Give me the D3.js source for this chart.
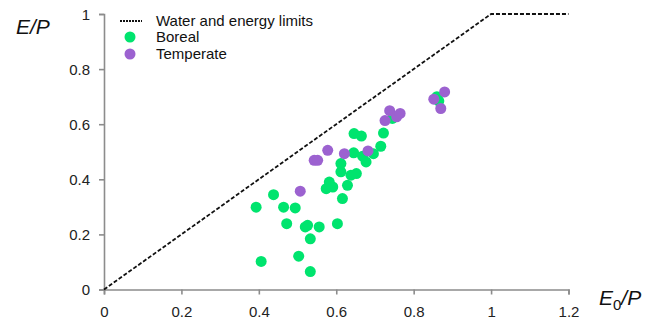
<!DOCTYPE html>
<html>
<head>
<meta charset="utf-8">
<script src="https://cdn.jsdelivr.net/npm/d3@7"></script>
<style>
  html, body { margin: 0; padding: 0; background: #fff; }
  svg { display: block; font-family: "Liberation Sans", Arial, sans-serif; }
</style>
</head>
<body>
<svg id="chart" width="654" height="321"></svg>
<script>
// Water and energy limits: E/P = E0/P up to 1, then capped at 1
const limitX = [0, 1, 1.2];
const limitY = [0, 1, 1];

// Boreal sites (E0/P, E/P)
const borealX = [0.393, 0.438, 0.464, 0.494, 0.472, 0.520, 0.526, 0.556, 0.533, 0.603,
                 0.406, 0.503, 0.533, 0.574, 0.582, 0.591, 0.616, 0.629, 0.612, 0.612,
                 0.638, 0.652, 0.645, 0.668, 0.677, 0.696, 0.715, 0.646, 0.665, 0.722,
                 0.745, 0.865, 0.860];
const borealY = [0.299, 0.344, 0.299, 0.296, 0.239, 0.227, 0.233, 0.227, 0.184, 0.239,
                 0.102, 0.121, 0.065, 0.366, 0.390, 0.372, 0.330, 0.378, 0.427, 0.457,
                 0.415, 0.421, 0.496, 0.484, 0.463, 0.493, 0.520, 0.566, 0.557, 0.568,
                 0.621, 0.684, 0.700];

// Temperate sites (E0/P, E/P)
const temperateX = [0.507, 0.543, 0.552, 0.578, 0.621, 0.682, 0.726, 0.738, 0.756, 0.765,
                    0.852, 0.880, 0.870];
const temperateY = [0.357, 0.469, 0.469, 0.505, 0.493, 0.503, 0.613, 0.649, 0.627, 0.639,
                    0.691, 0.717, 0.657];

const xTicks = [0, 0.2, 0.4, 0.6, 0.8, 1, 1.2];
const yTicks = [0, 0.2, 0.4, 0.6, 0.8, 1];

const legendLabels = ["Water and energy limits", "Boreal", "Temperate"];
const colBoreal = "#00E46E";
const colTemperate = "#9C62D0";
const axisColor = "#8c8c8c";

const svg = d3.select("#chart");
const x = d3.scaleLinear().domain([0, 1.2]).range([104, 568.5]);
const y = d3.scaleLinear().domain([0, 1]).range([289.5, 14]);

// Axes
const xAxis = d3.axisBottom(x).tickValues(xTicks).tickSize(5).tickPadding(12)
  .tickFormat(d => d3.format("~g")(d));
const yAxis = d3.axisLeft(y).tickValues(yTicks).tickSize(5).tickPadding(9)
  .tickFormat(d => d3.format("~g")(d));

const gx = svg.append("g").attr("transform", `translate(0,${y(0)})`).call(xAxis);
const gy = svg.append("g").attr("transform", `translate(${x(0)},0)`).call(yAxis);
[gx, gy].forEach(g => {
  g.select(".domain").attr("stroke", axisColor).attr("stroke-width", 1.6);
  g.selectAll(".tick line").attr("stroke", axisColor).attr("stroke-width", 1.6);
  g.selectAll(".tick text").attr("fill", "#222").style("font-size", "15px")
    .style("font-family", "'Liberation Sans', Arial, sans-serif");
});
gy.selectAll(".tick text").attr("dy", "0.36em");

// Limit line
const limitData = limitX.map((v, i) => [v, limitY[i]]);
svg.append("path")
  .datum(limitData)
  .attr("d", d3.line().x(d => x(d[0])).y(d => y(d[1])))
  .attr("fill", "none")
  .attr("stroke", "#111")
  .attr("stroke-width", 1.8)
  .attr("stroke-dasharray", "4,2");

// Points
const r = 5.5;
svg.append("g").selectAll("circle")
  .data(borealX.map((v, i) => [v, borealY[i]]))
  .join("circle")
  .attr("cx", d => x(d[0])).attr("cy", d => y(d[1])).attr("r", r)
  .attr("fill", colBoreal);
svg.append("g").selectAll("circle")
  .data(temperateX.map((v, i) => [v, temperateY[i]]))
  .join("circle")
  .attr("cx", d => x(d[0])).attr("cy", d => y(d[1])).attr("r", r)
  .attr("fill", colTemperate);

// Axis titles
svg.append("text")
  .attr("x", 16).attr("y", 34)
  .style("font-size", "21px").style("font-style", "italic").attr("fill", "#111")
  .text("E/P");
const xt = svg.append("text")
  .attr("x", 599).attr("y", 305)
  .style("font-size", "21px").style("font-style", "italic").attr("fill", "#111");
xt.append("tspan").text("E");
xt.append("tspan").attr("dy", 5).style("font-size", "15px").style("font-style", "normal").text("0");
xt.append("tspan").attr("dy", -5).text("/P");

// Legend
const lg = svg.append("g").attr("transform", "translate(120,0)");
lg.append("line").attr("x1", 0).attr("x2", 22).attr("y1", 21).attr("y2", 21)
  .attr("stroke", "#111").attr("stroke-width", 1.8).attr("stroke-dasharray", "2,1");
lg.append("circle").attr("cx", 10).attr("cy", 37).attr("r", r).attr("fill", colBoreal);
lg.append("circle").attr("cx", 10).attr("cy", 54).attr("r", r).attr("fill", colTemperate);
lg.selectAll("text.lab")
  .data(legendLabels)
  .join("text")
  .attr("class", "lab")
  .attr("x", 36)
  .attr("y", (d, i) => [21, 37, 54][i])
  .attr("dy", "0.35em")
  .style("font-size", "15px")
  .attr("fill", "#111")
  .text(d => d);
</script>
</body>
</html>
